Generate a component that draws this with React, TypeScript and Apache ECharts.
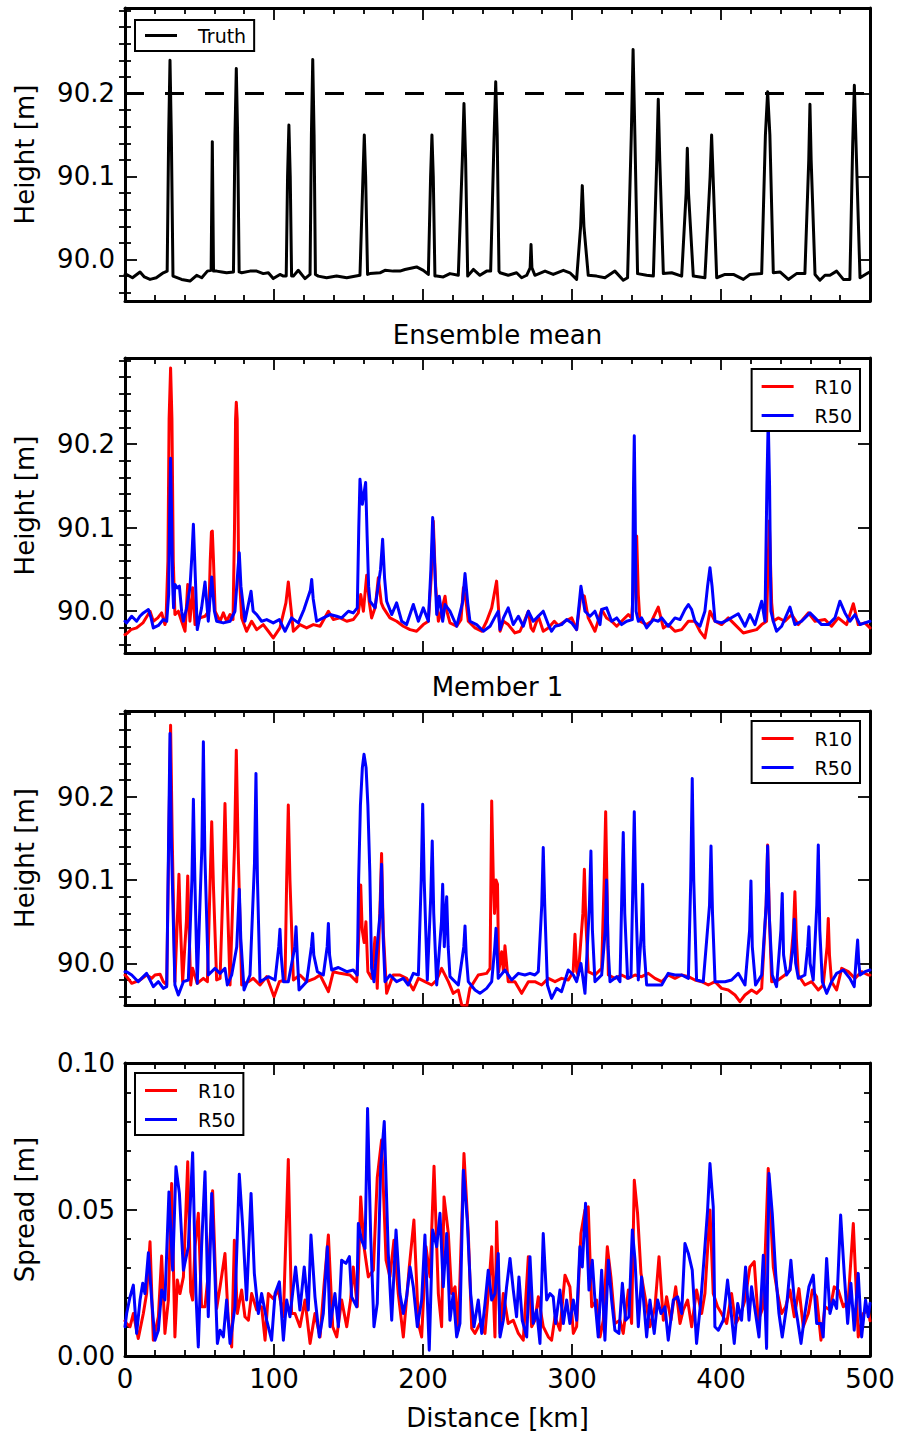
import React, { useEffect, useRef } from "react";
import * as echarts from "echarts";

// ---------- DATA (x in km, heights in mm relative to 90 m, spread in mm) ----------
const truthMm: [number, number][] = [
  [0,-18],[1.1,-18],[5,-22],[10.1,-15],[13,-21],[16.8,-24],[21,-22],[25.7,-16],[28.3,-14],[29.3,150],[30.2,240],[31.1,150],[32.2,-20],[33.6,-21],[38,-24],[43.6,-26],[48.1,-19],[51.5,-22],[55.3,-14],[57.8,-13],[58.6,142],[59.4,-14],[61.5,-14],[65,-15],[68.2,-16],[72.8,-15],[73.8,150],[74.7,230],[75.6,150],[76.6,-15],[78.3,-16],[83.9,-14],[88.4,-14],[92.8,-17],[96.2,-16],[99.5,-23],[104,-18],[106.3,-20],[108.2,-20],[109.1,100],[110,162],[110.9,100],[111.8,-20],[113,-20],[116.3,-13],[120.8,-23],[124.2,-18],[125.1,150],[126,241],[126.9,150],[127.8,-18],[129.7,-20],[135.3,-22],[142,-20],[148.8,-22],[157.7,-19],[159.7,100],[160.6,150],[161.5,100],[162.8,-18],[164.4,-17],[171.1,-16],[174.5,-13],[180,-14],[184.5,-14],[187.9,-12],[195.7,-9],[200.2,-13],[203.6,-18],[205.1,100],[206,150],[206.9,100],[208,-20],[209.2,-20],[213.6,-21],[218.1,-17],[223.7,-19],[226.4,120],[227.5,188],[228.6,120],[230,-20],[233.8,-12],[238.2,-19],[242.7,-14],[245.4,-14],[247.6,140],[248.8,214],[249.8,150],[251,-14],[251.7,-16],[257.2,-19],[262.8,-16],[266.2,-22],[269.6,-19],[271.9,-10],[272.5,18],[273.1,-10],[275.1,-19],[281.9,-14],[287.4,-18],[294.2,-13],[298.6,-16],[303.1,-24],[305.8,40],[306.9,89],[308,40],[310.9,-19],[316.5,-20],[322.1,-22],[328.8,-14],[334.4,-25],[337.3,-22],[339.8,150],[341,253],[342.2,150],[344,-17],[350.1,-19],[354.6,-20],[356.9,120],[357.9,193],[358.9,120],[361.3,-17],[366.9,-16],[373.6,-20],[376.6,80],[377.4,134],[378.2,80],[381.4,-20],[389.2,-22],[392.7,100],[393.7,150],[394.7,100],[397.1,-22],[402.7,-18],[408.3,-18],[415,-24],[419.4,-18],[427.3,-17],[429.8,150],[431.3,202],[432.8,150],[435.1,-16],[439.6,-15],[445.2,-24],[450.7,-17],[456.3,-17],[458.9,120],[459.7,187],[460.5,120],[463.1,-18],[466.4,-25],[469.8,-19],[473.1,-19],[477.6,-14],[482.1,-24],[486.5,-24],[488.4,140],[489.5,210],[490.6,140],[493.3,-22],[498.8,-16],[500,-15]
];
const truthLine = 90.2;

const meanR10Mm: [number, number][] = [
  [0,-28],[1.1,-27],[4,-22],[7.8,-20],[12,-14],[16.8,0],[19,-12],[22,-8],[24.6,-2],[26.8,-16],[27.5,-12],[28.8,60],[29.6,230],[30.6,291],[31.5,230],[32.4,60],[33.5,-4],[35.8,0],[38,-12],[40.3,-24],[42.1,32],[43.6,-12],[45.4,28],[47,-16],[50.3,-8],[53.7,-6],[56.3,0],[57.2,60],[58,95],[58.6,96],[59.4,60],[60.5,0],[61.5,-4],[63.8,-12],[66,-2],[68.2,-12],[70.5,-4],[72.5,-10],[73.5,100],[74.2,230],[74.7,250],[75.3,230],[76.2,60],[78.3,-8],[81.6,-24],[85,-12],[88.4,-22],[92.8,-16],[96.2,-24],[99.5,-32],[104,-20],[108,10],[109.6,35],[111,10],[113,-24],[117.4,-16],[121.9,-20],[126.4,-16],[130.9,-18],[136.5,0],[139.8,-10],[144.3,-8],[148.8,-12],[153.2,-10],[156.6,-2],[158.2,20],[160,0],[162.2,43],[164,10],[165.5,-8],[168,5],[170,40],[172,10],[173.4,4],[177.8,-8],[182.3,-12],[186.8,-18],[191.3,-22],[195.7,-24],[200.2,-16],[203.6,-12],[205.5,40],[206.9,108],[208.5,30],[210.3,-12],[213,5],[214.8,18],[216,0],[218.1,-14],[222.6,-18],[225.5,-10],[227.1,28],[229,10],[230.4,-12],[234.9,-20],[239.4,-24],[242.7,-12],[246.1,4],[249.4,36],
  [251.7,-24],[254,-12],[257.2,-16],[261.7,-26],[265.1,-24],[268,-12],[270.7,0],[272.5,-20],[274,-24],[277.4,-6],[280.7,-24],[284.1,-20],[288.1,-12],[290.8,-17],[295.3,-12],[299.8,-8],[303.1,-22],[306,20],[308.3,18],[310.9,-8],[315.4,-24],[319.9,2],[323.2,-8],[326.6,-12],[330,-18],[333.3,-12],[337.8,-4],[340,-8],[341.5,30],[343.4,90],[344.5,20],[345.6,-12],[350.1,-16],[353.4,-12],[357.9,5],[361.3,-20],[364.6,-16],[369.1,-24],[373.6,-22],[378.1,-12],[382.5,-12],[385.9,-24],[389.2,-32],[392.6,0],[396,-12],[400.4,-16],[404.9,-8],[409.4,-16],[415,-26],[419.4,-24],[423.9,-22],[427.3,-16],[430.6,-12],[432.4,108],[434,10],[435.1,-12],[438.4,-8],[442.9,-12],[447.4,-4],[451.9,-16],[458.6,-2],[463.1,-12],[469.8,-10],[474.2,-18],[478.7,-8],[484.3,-16],[488.8,9],[492.1,-16],[496.6,-14],[500,-20]
];

const meanR50Mm: [number, number][] = [
  [0,-12],[1.1,-14],[4.5,-6],[7.8,-12],[10,-6],[12.3,-2],[15.7,2],[17.5,-8],[19,-20],[22.4,-17],[25.7,-10],[28,-12],[29.3,20],[30,120],[30.6,183],[31.3,110],[32,30],[32.6,4],[33.5,32],[35.1,28],[36.5,30],[38,0],[39.2,-12],[41.4,4],[43.6,28],[45,70],[45.9,104],[46.8,60],[48.5,-22],[51.4,4],[53.7,35],[55.9,-12],[58.2,41],[60,0],[61.5,-12],[66,-14],[70.5,-12],[73.8,0],[75.8,50],[76.7,70],[77.8,30],[80.5,-12],[84.6,24],[86,0],[88.4,-4],[91.7,-12],[95.1,-10],[99.5,-14],[103.6,-10],[107.4,-24],[111.8,-8],[116.3,-14],[120.1,2],[124.4,25],[125.3,38],[126.3,15],[128.6,-12],[133.1,-8],[137.6,-4],[142.1,-6],[145.4,-8],[149.9,0],[153.2,-2],[155.9,4],[156.9,100],[157.7,158],[159.3,128],[161.5,154],[162.5,90],[163.5,30],[164.4,12],[167.8,4],[171.5,50],[172.9,86],[174.2,40],[175.6,12],[179,-4],[182.3,10],[185.7,-12],[189,-16],[193.5,8],[196.9,-12],[200.2,4],[203.6,-12],[205.3,50],[206.5,112],[207.7,60],[209.2,-4],[210.9,18],[213.2,-12],[214.8,8],[218.1,0],[222.6,-18],[226.5,10],[228.2,45],[230,10],[231.5,-12],[236,-16],[240.5,-24],[245,-18],[248,-8],[250.5,0],
  [251.7,-22],[254,-8],[257.2,4],[260.6,-16],[264,-6],[267.3,-18],[270.7,0],[274,-12],[276.3,-8],[280.7,0],[284.1,-16],[286.3,-24],[288.6,-18],[293,-16],[296.4,-10],[299.8,-14],[303.1,-22],[306,30],[308.7,0],[312.1,-6],[315.4,0],[318.8,-16],[319.9,2],[323.2,4],[326.6,-12],[330,-8],[333.3,-16],[336.7,-12],[340.5,-10],[341.3,150],[341.8,210],[342.4,120],[343,0],[344.5,-12],[346.7,-8],[350.1,-20],[354.6,-10],[357.9,-12],[360.2,-8],[364.6,-18],[369.1,-8],[372.5,-10],[375.8,2],[378.1,8],[380.3,2],[382.5,-12],[385.9,-18],[389.2,0],[391,30],[392.6,52],[394,30],[396,-12],[400.4,-14],[404.9,-10],[411.6,-3],[416.1,-18],[419.4,-4],[422.8,-16],[427.3,12],[429.5,-12],[430.8,150],[431.7,230],[432.6,150],[433.5,0],[435.1,-12],[437.3,-24],[440.7,-18],[446.3,5],[449.6,-16],[454.1,-12],[459.7,-2],[463.1,-8],[467.5,-16],[472,-16],[476.5,-8],[479.8,12],[483.2,-2],[486.5,-12],[489.9,-4],[493.3,-16],[496.6,-14],[500,-12]
];

const memberR10Mm: [number, number][] = [
  [0,-14],[1.1,-16],[4.5,-24],[10.1,-20],[14.5,-14],[17.9,-18],[20.1,-14],[23.5,-13],[25.7,-22],[28,-26],[29.4,150],[30.6,286],[31.7,150],[33.5,-22],[35.3,60],[36.2,107],[37.1,50],[38.7,-22],[41.2,50],[42.1,105],[43,40],[44.1,-26],[45.4,-6],[48.5,-24],[52.6,-18],[55.3,-22],[57,90],[58.2,170],[59.4,90],[61.5,-20],[63.8,-18],[65.9,100],[67.1,192],[68.3,100],[70.5,-26],[73.5,140],[74.7,256],[75.9,140],[78.3,-26],[82.8,-22],[86.1,-18],[90.6,-26],[95.1,-16],[100,-40],[103.6,-22],[107.4,-20],[108.5,100],[109.6,190],[110.7,100],[113,-20],[117.4,-14],[121.9,-22],[127.5,-18],[130.9,-14],[136.5,-34],[139.8,-10],[144.3,-12],[151,-14],[155.5,-22],[157.3,50],[158.2,94],[159.2,40],[160.5,25],[161.7,50],[163,-10],[165.5,-18],[167.8,31],[169.3,-30],[171.2,70],[172.2,132],[173.3,40],[175.6,-36],[180,-14],[184.5,-14],[189,-18],[193.5,-32],[196.9,-18],[201.3,-22],[205.8,-26],[209.2,-20],[212.5,-6],[217,-22],[220.3,-36],[223.7,-32],[226,-50],[229.3,-52],[231.5,-30],[237.1,-14],[242.7,-12],[245,-6],[246.1,195],[247.2,100],[248,60],[249,100],[250,95],[250.8,-10],
  [252.8,14],[254,-10],[255,21],[257.2,-22],[261.7,-22],[266.2,-36],[270.7,-22],[275.1,-22],[279.6,-26],[284.1,-18],[288.6,-22],[293,-18],[297.5,-20],[300.8,-10],[302,35],[303.2,-10],[304.2,-14],[307.3,60],[308.3,113],[309.3,50],[310.9,-10],[315.4,-14],[319.9,-6],[321.6,100],[322.6,182],[323.6,80],[324.4,-14],[328.8,-18],[333.3,-14],[337.8,-18],[342.3,-14],[346.7,-16],[351.2,-12],[355.7,-18],[360.2,-22],[364.6,-14],[369.1,-18],[373.6,-14],[378.1,-16],[382.5,-20],[387,-22],[391.5,-26],[396,-22],[400.4,-30],[404.9,-32],[409.4,-38],[412.7,-46],[416.1,-38],[420.5,-32],[423.9,-36],[427.3,-30],[430.3,70],[431.3,142],[432.4,60],[434,-22],[438.4,-20],[442.9,-14],[446.3,-8],[448.6,40],[449.6,86],[450.6,30],[451.9,-14],[456.3,-26],[460.8,-22],[465.3,-32],[468.6,-26],[471.2,20],[472,54],[472.8,10],[474.2,-22],[477.6,-32],[481,-6],[485.4,-10],[489.9,-18],[494.4,-10],[498.8,-14],[500,-14]
];

const memberR50Mm: [number, number][] = [
  [0,-10],[1.1,-10],[4.5,-14],[8.9,-22],[14.5,-12],[19,-28],[22.4,-22],[25.7,-30],[28,-28],[29.2,140],[30.2,276],[31.2,140],[33.5,-26],[35.8,-38],[39.2,-22],[42.5,-20],[44.9,100],[45.9,197],[46.9,100],[48.5,-24],[51.6,140],[52.6,266],[53.6,130],[55.9,-14],[60.4,-6],[63.8,-12],[67.1,-6],[68.7,-26],[71.6,-14],[75,20],[76,60],[76.7,89],[77.7,30],[79.9,-32],[83.9,-14],[86.9,120],[87.9,228],[88.9,100],[90.6,-22],[96.2,-16],[100.7,-20],[103.2,20],[104,41],[104.8,10],[106.3,-22],[109.6,-22],[114,20],[114.8,44],[115.6,10],[116.8,-32],[121.9,-22],[125.1,20],[125.9,36],[126.7,10],[129.1,-10],[133.1,-14],[135.7,20],[136.5,48],[137.3,10],[138.7,-8],[143.2,-5],[148.8,-10],[153.2,-8],[155.9,-14],[156.8,100],[158,190],[159.3,235],[160.4,251],[161.8,235],[163,190],[164.3,110],[165.5,-6],[167.1,-22],[171.2,60],[172.2,119],[173.3,30],[174.5,-22],[177.8,-14],[182.3,-22],[186.8,-18],[190.1,-26],[193.5,-12],[196.9,-14],[198.8,100],[199.8,191],[200.8,100],[202.9,-20],[205.2,80],[206.2,147],[207.2,60],[209.2,-26],[212.4,50],[213.2,95],[214.3,20],[215.2,60],[215.9,80],[216.9,20],[218.1,-16],[223.7,-26],[227.4,20],[228.2,45],[229,10],[230.4,-22],[234.9,-32],[238.2,-36],[242.7,-30],[246.1,-22],[248.2,20],[249,42],[250.5,-18],
  [255,-8],[259.5,-20],[264,-12],[268.4,-14],[271.8,-12],[275.1,-14],[277.4,-10],[279.7,70],[280.7,139],[281.7,70],[283.5,-26],[286.3,-42],[289.7,-30],[293,-34],[297.5,-8],[300.9,-14],[303.1,-22],[306,0],[308.7,-36],[311.7,70],[312.7,135],[313.7,40],[315.4,-22],[319.9,-14],[322.3,40],[323.2,100],[324.2,20],[325.5,-22],[330,-16],[332.2,-22],[333.4,80],[334.4,157],[335.4,60],[337.3,-18],[339.6,-16],[340.8,90],[341.8,182],[342.8,80],[344.5,-20],[346.6,40],[347.4,95],[348.3,20],[350.1,-26],[355.7,-26],[360.2,-26],[364.6,-12],[369.1,-14],[373.6,-14],[378.1,-18],[379.7,100],[380.7,222],[381.7,100],[383.6,-20],[388.1,-22],[392.3,70],[393.3,141],[394.3,60],[396,-22],[402.7,-22],[407.1,-20],[411.6,-12],[416.1,-26],[419.2,40],[420.1,99],[421,20],[423.2,-26],[427.3,-14],[430.3,70],[431.3,141],[432.3,60],[434.4,-14],[437.3,-28],[440.2,40],[441.1,84],[442,10],[444,-14],[446.3,-8],[448.4,20],[449.2,53],[450.1,0],[451.9,-18],[456.3,-14],[458.2,20],[459,44],[459.8,0],[461.9,-20],[464.3,70],[465.3,142],[466.3,40],[468,-22],[470.9,-36],[474.2,-22],[477.6,-12],[482.1,-8],[486.5,-18],[489.4,-28],[490.9,10],[491.7,28],[492.5,0],[493.3,-14],[496.6,-10],[500,-8]
];

const spreadR10Mm: [number, number][] = [
  [0,12],[1.1,11.1],[3.4,10],[5.6,14.5],[8.9,6],[12.3,14.5],[14.5,21.3],[16.8,39],[19,5.4],[22.4,13.4],[24.6,34.1],[26.8,7.7],[29.1,19.1],[31.3,58.9],[33.5,6.5],[35.1,25.9],[36.9,21.3],[39.2,27],[42.1,66.3],[44.1,21.9],[45.4,19.1],[47,37.3],[49.2,48.7],[51.4,16.8],[53.7,16.8],[55.9,28.2],[58.8,56.4],[61.5,16.2],[63.8,23.6],[67.1,35],[69.3,12.2],[71.6,3.1],[73.4,39.5],[75.4,14.5],[78.3,22.5],[80.5,13.4],[82.8,12.2],[85,21.3],[88.4,15.7],[91.7,16.8],[94,5.4],[96.2,21.3],[99.5,19.6],[102.9,22.5],[106.3,13.4],[109.6,67.1],[111.8,14.5],[114.1,14.5],[117.4,10],[120.8,19.1],[124.2,4.3],[127.5,14.5],[130.9,6.5],[133.5,23.6],[136.5,41.3],[139.4,10],[142.1,6.5],[145.4,19.1],[148.8,10],[151.4,19.1],[153.2,30.4],[155.9,16.8],[158.2,54.3],[160.4,37.3],[163.3,27],[166.7,29.3],[169.3,60.9],[172.2,73.7],[175.2,32.7],[177.8,27],[180.5,39.5],[183.4,21.3],[186.8,6.5],[190.8,30.4],[193.9,46.4],[196.9,11.1],[199.1,6.5],[202,37.3],[204.7,27],[207.4,64.8],[210.3,21.3],[212.5,10],[214.1,54.3],[217,41.8],[219.2,21.3],[221.5,23.6],[223.7,8.8],[227.5,69.1],[230.4,41.8],[232.7,9.4],[234.9,7.7],[238.2,11.1],[241.6,7.7],[243.8,21.3],[246.1,37.3],[248.3,6.5],[249.4,45.8],
  [251.7,7.7],[253.9,21.3],[257.2,11.1],[260.6,12.2],[264,7.7],[267.3,5.4],[270.7,33.9],[272.9,10],[275.1,12.2],[277.4,20.2],[280.7,10],[284.1,6.5],[286.3,5.4],[288.6,13.4],[291.9,8.8],[295.3,27.6],[298.6,23.6],[300.9,7.7],[303.1,10],[306,41.8],[308.7,49.8],[310.9,50.9],[313.2,16.8],[316.5,19.1],[318.8,6.5],[321,12.2],[323.7,37.3],[326.1,27],[328.8,11.1],[332.2,12.2],[334.4,7.7],[337.8,22.5],[340,11.1],[341.8,60],[344,48.7],[346.3,28.2],[349,20.2],[352.3,10],[355.7,16.8],[358.4,33.9],[361.3,12.2],[363.5,20.2],[366.4,12.2],[369.6,23.6],[372.5,11.1],[374.7,15.7],[377.6,19.1],[380.3,10],[383.6,22.5],[387,14.5],[389.2,21.3],[392.6,49.8],[394.8,21.3],[397.7,16.8],[400.4,14.5],[403.8,11.1],[407.1,21.3],[409.8,11.1],[412.7,13.4],[416.1,19.1],[419.4,30.4],[422.3,32.2],[425,12.2],[428.4,16.8],[431.7,64],[435.1,30.4],[438,21.3],[440.7,14.5],[443.4,16.8],[446.3,22.5],[449.2,13.4],[452.3,23],[455.2,10],[458.6,14.5],[461.3,22.5],[464.2,20.2],[467.1,5.4],[469.8,16.8],[473.1,15.7],[476,23.6],[478.7,22.5],[482.1,16.8],[485.4,19.1],[488.8,45.2],[492.1,6.5],[495.5,14.5],[498.8,15.7],[500,12]
];

const spreadR50Mm: [number, number][] = [
  [0,10],[1.1,14.5],[3.4,20.2],[5.6,24.2],[7.8,7.7],[10.1,19.1],[11.9,24.8],[13.4,21.3],[15.7,35.2],[17.9,19.1],[20.1,5.4],[22.4,8.8],[24.6,22.5],[26.8,19.1],[29.5,56],[32,29.3],[34.2,64.6],[36.5,55.5],[39.2,29.3],[42.5,37.3],[45.4,69.4],[47.6,21.3],[49.2,3.1],[51.4,37.3],[53.7,62.9],[55.9,13.4],[58.2,55.5],[60.4,27],[62,4.3],[63.8,8.8],[66,6.5],[68.2,19.1],[70.5,4.3],[73.8,16.8],[76.7,62],[79,44.1],[81.6,19.1],[84.6,55.5],[86.8,28.2],[89.5,14.5],[91.7,21.3],[95.1,12.2],[98.4,5.4],[100.7,21.3],[103.6,25.3],[106.3,5.4],[108.5,19.1],[110.7,13.4],[114.5,30.4],[117.4,15.7],[120.3,30.4],[123,15.7],[124.8,41.3],[127.5,20.2],[130.4,6.5],[133.1,14.5],[135.8,37.3],[137.6,10],[140.9,21.3],[143.2,10],[145.4,32.7],[148.3,31.6],[150.6,33.9],[152.1,20.2],[155.5,16.8],[156.6,45.2],[158.8,39.5],[161.1,36.7],[162.8,84.5],[164.9,40.7],[167.1,10],[169.3,17.9],[171.6,64.6],[174,80],[176.7,35],[179,12.2],[181.9,43],[184.5,21.3],[186.8,14.5],[189,20.2],[191.3,30.4],[193.5,23.6],[196.2,10],[199.1,19.1],[201.3,41.3],[204.2,2],[206.5,43],[209.2,37.3],[211.4,48.7],[213.6,23.6],[215.9,41.8],[218.1,12.2],[220.3,21.3],[222.6,6.5],[224.8,11.1],[227.1,63.4],[229.7,46.4],[232,21.3],[234.2,10],[237.1,19.1],[239.4,7.7],[241.6,17.9],[243.8,29.3],[246.1,19.1],[248.3,21.3],[250.5,35],
  [251.7,6.5],[253.9,12.2],[256.1,23.6],[258.4,33.3],[260.6,22.5],[262.8,13.4],[264.4,27],[266.6,12.2],[269.6,6.5],[271.8,33.9],[274,11.1],[276.3,15.7],[278.5,4.3],[280.7,41.8],[283,19.1],[285.2,21.3],[287.4,20.2],[289,11.1],[291.9,22.5],[294.2,11.1],[296.4,19.1],[298.6,11.1],[300.9,19.1],[303.1,12.2],[305.3,37.3],[306.9,30.4],[309.1,52.1],[311.4,22.5],[313.6,32.7],[315.4,19.1],[317.6,6.5],[319.9,29.3],[322.1,5.4],[324.4,32.7],[326.6,19.1],[328.8,8.8],[331.5,7.7],[333.8,24.8],[336,12.2],[338.2,13.4],[340.5,43],[342.3,32.7],[344.5,10],[346.7,27],[350.1,6.5],[352.3,19.1],[355.2,7.7],[357.5,19.1],[359.7,14.5],[362.4,16.8],[364.6,5.4],[368,19.1],[370.9,20.2],[373.6,14.5],[375.8,38.4],[378.1,35],[380.7,29.3],[383.6,4.3],[386.5,19.1],[388.8,34.4],[391,49.8],[392.6,65.7],[394.8,50.9],[395.9,10],[398.2,8.8],[401.5,12.2],[404.4,25.9],[407.1,13.4],[408.9,4.3],[411.2,17.9],[413.8,12.2],[416.5,30.4],[418.8,12.2],[420.5,23.6],[423.2,14.5],[425.5,6.5],[428.4,34.4],[430.6,2.6],[432.2,62.3],[434.4,48.7],[436.7,28.2],[438.9,14.5],[441.1,6.5],[444,16.8],[446.9,32.7],[449.2,19.1],[451.4,12.2],[453.7,4.3],[456.3,14.5],[459,23.6],[461.9,27.6],[464.2,11.1],[467.1,11.1],[468.6,6.5],[470.9,33.3],[473.1,14.5],[475.4,19.1],[477.6,16.2],[480.3,48.1],[482.7,28.2],[485,11.1],[487.2,24.8],[489.4,8.8],[492.1,28.2],[494.4,6.5],[497,19.1],[498.8,13.4],[500,18]
];

const heightMajorTicks = [90.0, 90.1, 90.2];
const heightMinorTicks = [89.96, 89.98, 90.02, 90.04, 90.06, 90.08, 90.12, 90.14, 90.16, 90.18, 90.22, 90.24, 90.26, 90.28, 90.3];
const panelTitles = ["Ensemble mean", "Member 1"];

// ---------- CHART ----------
const FONT = "DejaVu Sans";
const toHeight = (a: [number, number][]) => a.map(([x, mm]) => [x, 90 + mm / 1000]);
const toSpread = (a: [number, number][]) => a.map(([x, mm]) => [x, mm / 1000]);

const LEFT = 125;
const WIDTH = 745;
const grids = [
  { left: LEFT, width: WIDTH, top: 8, height: 293 },
  { left: LEFT, width: WIDTH, top: 358, height: 295 },
  { left: LEFT, width: WIDTH, top: 711, height: 294 },
  { left: LEFT, width: WIDTH, top: 1063, height: 293 },
];

const black = "#000";
const tickStyle = { color: black, width: 1.8 };
const frame = { show: true, onZero: false, lineStyle: { color: black, width: 3 } };
const MAJOR = 12;
const MINOR = 6;

function xAxisFor(i: number, position: "top" | "bottom") {
  const labels = i === 3 && position === "bottom";
  return {
    type: "value", gridIndex: i, position, min: 0, max: 500, interval: 100,
    axisLine: frame,
    axisTick: { show: true, inside: true, length: MAJOR, lineStyle: tickStyle },
    minorTick: { show: true, splitNumber: 5, length: MINOR, lineStyle: tickStyle },
    splitLine: { show: false }, minorSplitLine: { show: false },
    axisLabel: { show: labels, color: black, fontSize: 26, fontFamily: FONT, margin: 10 },
    name: labels ? "Distance [km]" : "",
    nameLocation: "middle", nameGap: 49,
    nameTextStyle: { color: black, fontSize: 26, fontFamily: FONT },
  };
}

function heightAxes(i: number) {
  const base = { type: "value", gridIndex: i, min: 89.95, max: 90.303, splitLine: { show: false } };
  return [
    {
      ...base, position: "left", axisLine: frame,
      axisTick: { show: true, inside: true, length: MAJOR, lineStyle: tickStyle, customValues: heightMajorTicks },
      axisLabel: { show: true, customValues: heightMajorTicks, formatter: (v: number) => v.toFixed(1), color: black, fontSize: 26, fontFamily: FONT, margin: 10 },
      name: "Height [m]", nameLocation: "middle", nameGap: 87,
      nameTextStyle: { color: black, fontSize: 26, fontFamily: FONT },
    },
    {
      ...base, position: "left", axisLine: { show: false },
      axisTick: { show: true, inside: true, length: MINOR, lineStyle: tickStyle, customValues: heightMinorTicks },
      axisLabel: { show: false },
    },
    {
      ...base, position: "right", axisLine: frame,
      axisTick: { show: true, inside: true, length: MAJOR, lineStyle: tickStyle, customValues: heightMajorTicks },
      axisLabel: { show: false },
    },
    {
      ...base, position: "right", axisLine: { show: false },
      axisTick: { show: true, inside: true, length: MINOR, lineStyle: tickStyle, customValues: heightMinorTicks },
      axisLabel: { show: false },
    },
  ];
}

function spreadAxes(i: number) {
  const base = {
    type: "value", gridIndex: i, min: 0, max: 0.1, interval: 0.05,
    splitLine: { show: false }, minorSplitLine: { show: false },
    axisLine: frame,
    axisTick: { show: true, inside: true, length: MAJOR, lineStyle: tickStyle },
    minorTick: { show: true, splitNumber: 5, length: MINOR, lineStyle: tickStyle },
  };
  return [
    {
      ...base, position: "left",
      axisLabel: { show: true, formatter: (v: number) => v.toFixed(2), color: black, fontSize: 26, fontFamily: FONT, margin: 10 },
      name: "Spread [m]", nameLocation: "middle", nameGap: 87,
      nameTextStyle: { color: black, fontSize: 26, fontFamily: FONT },
    },
    { ...base, position: "right", axisLabel: { show: false } },
  ];
}

function lineSeries(name: string, color: string, data: number[][], xi: number, yi: number, extra: any = {}) {
  return {
    type: "line", name, xAxisIndex: xi, yAxisIndex: yi, data,
    showSymbol: false, symbol: "none", clip: true,
    lineStyle: { color, width: 3, join: "round", cap: "round" }, itemStyle: { color },
    emphasis: { disabled: true }, ...extra,
  };
}

const legendCommon = {
  orient: "vertical", icon: "rect", itemWidth: 32, itemHeight: 3, itemGap: 10,
  borderColor: black, borderWidth: 2, borderRadius: 0, backgroundColor: "#fff",
  selectedMode: false,
  textStyle: { fontSize: 19, fontFamily: FONT, color: black, lineHeight: 19, padding: [0, 0, 0, 16] },
};

export default function App() {
  const ref = useRef<HTMLDivElement>(null);
  useEffect(() => {
    if (!ref.current) return;
    const chart = echarts.init(ref.current, undefined, { renderer: "svg" });
    const xAxis: any[] = [];
    for (let i = 0; i < 4; i++) {
      xAxis.push(xAxisFor(i, "bottom"));
      xAxis.push(xAxisFor(i, "top"));
    }
    const yAxis: any[] = [...heightAxes(0), ...heightAxes(1), ...heightAxes(2), ...spreadAxes(3)];
    const option: any = {
      animation: false,
      backgroundColor: "#fff",
      textStyle: { fontFamily: FONT },
      grid: grids,
      xAxis, yAxis,
      legend: [
        { ...legendCommon, data: ["Truth"], left: 135, top: 20, padding: [6, 8, 6, 10] },
        { ...legendCommon, data: ["R10", "R50"], right: 41, top: 369, padding: [8, 8, 6, 10] },
        { ...legendCommon, data: ["R10", "R50"], right: 41, top: 721, padding: [8, 8, 6, 10] },
        { ...legendCommon, data: ["R10", "R50"], left: 135, top: 1073, padding: [8, 8, 6, 10] },
      ],
      graphic: [
        { type: "text", x: 497.5, y: 335, style: { text: panelTitles[0], fontSize: 26, fontFamily: FONT, fill: black, align: "center", verticalAlign: "middle" } },
        { type: "text", x: 497.5, y: 687, style: { text: panelTitles[1], fontSize: 26, fontFamily: FONT, fill: black, align: "center", verticalAlign: "middle" } },
      ],
      series: [
        lineSeries("Truth", black, toHeight(truthMm), 0, 0, {
          markLine: {
            symbol: "none", silent: true, label: { show: false },
            lineStyle: { color: black, width: 3, type: [19, 21] },
            data: [{ yAxis: truthLine }],
          },
        }),
        lineSeries("R10", "#ff0000", toHeight(meanR10Mm), 2, 4),
        lineSeries("R50", "#0000ff", toHeight(meanR50Mm), 2, 4),
        lineSeries("R10", "#ff0000", toHeight(memberR10Mm), 4, 8),
        lineSeries("R50", "#0000ff", toHeight(memberR50Mm), 4, 8),
        lineSeries("R10", "#ff0000", toSpread(spreadR10Mm), 6, 12),
        lineSeries("R50", "#0000ff", toSpread(spreadR50Mm), 6, 12),
      ],
    };
    chart.setOption(option);
    return () => chart.dispose();
  }, []);
  return <div ref={ref} style={{ position: "absolute", left: 0, top: 0, width: 901, height: 1432, background: "#fff" }} />;
}
